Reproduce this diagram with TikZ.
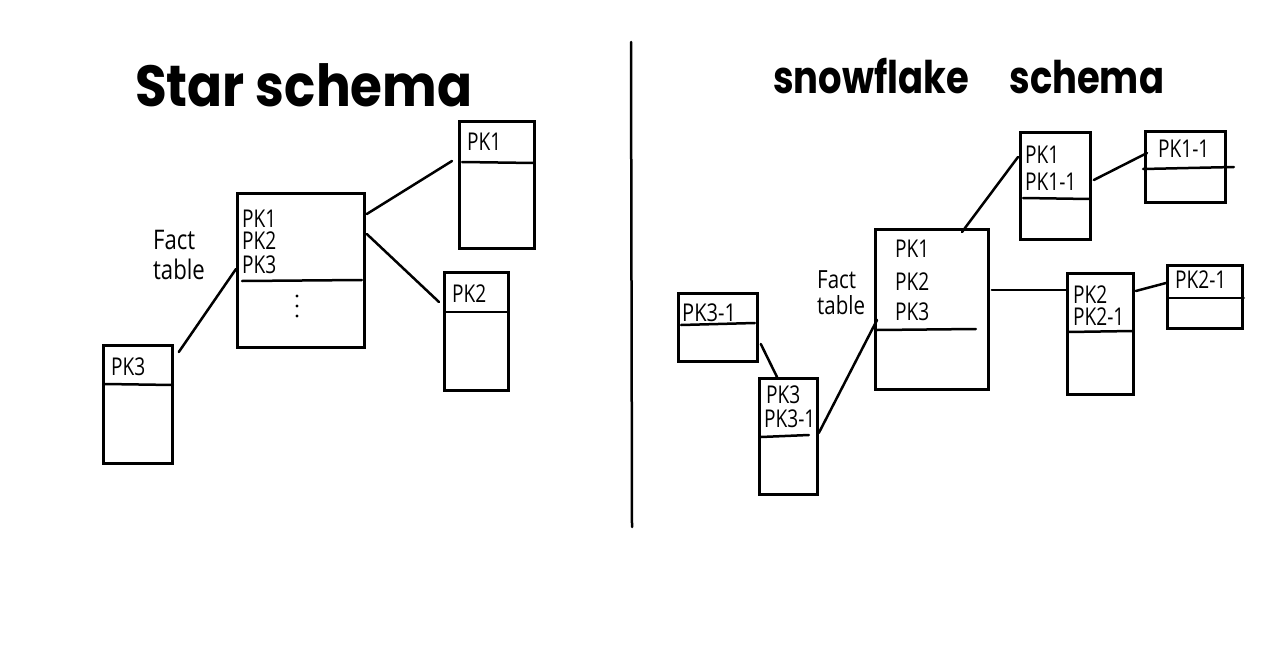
\documentclass[tikz,border=0pt]{standalone}
\usepackage{fontspec}
\setmainfont{Open Sans}
\newfontfamily\titlefont{Poppins}
\usetikzlibrary{calc}
\begin{document}
\begin{tikzpicture}[x=1pt,y=-1pt,
  tbl/.style={draw, line width=2.8pt, rectangle, inner sep=0pt, anchor=north west},
  lbl/.style={font=\fontsize{24.5}{26}\selectfont, anchor=base west, inner sep=0pt, xscale=0.78},
  side/.style={font=\fontsize{27}{30}\selectfont, anchor=north west, inner sep=0pt, align=left, xscale=0.82},
  ttl/.style={font=\titlefont\bfseries\fontsize{58}{60}\selectfont, anchor=base west, inner sep=0pt, xscale=0.89},
  ttlb/.style={font=\titlefont\bfseries\fontsize{45}{48}\selectfont, anchor=base west, inner sep=0pt, xscale=0.82},
  conn/.style={line width=2.5pt, line cap=round},
  uline/.style={line width=2.5pt, line cap=round},
  divider/.style={line width=2.5pt, line cap=round}]
\fill[white] (0,0) rectangle (1282,661);
\useasboundingbox (0,0) rectangle (1282,661);

% ---------- titles ----------
\node[ttl] (t1) at (135,106) {Star schema};
\node[ttlb] (t2) at (773,93) {snowflake\hspace{40pt} schema};

% ---------- divider ----------
\coordinate (dtop) at (631,42);
\coordinate (dbot) at (632,527);
\draw[divider] (dtop) -- (dbot);

% ================= STAR SCHEMA =================
\node[tbl, minimum width=127pt, minimum height=154pt] (sf) at (236,192) {};
\node[lbl] (sfa) at (242,227) {PK1};
\node[lbl] (sfb) at (242,249) {PK2};
\node[lbl] (sfc) at (242,273) {PK3};
\draw[uline] ($(sf.north west)+(6,89)$) -- ($(sf.north east)+(-4,88)$);
\fill (297,296) circle (1.6pt) (297,306) circle (1.6pt) (297,316) circle (1.6pt);
\node[side] (sfl) at (153,230) {Fact\\table};

\node[tbl, minimum width=75pt, minimum height=127pt] (sd1) at (458,120) {};
\node[lbl] (sd1a) at (467,150) {PK1};
\draw[uline] ($(sd1.north west)+(4,42)$) -- ($(sd1.north east)+(-2,43)$);

\node[tbl, minimum width=64pt, minimum height=118pt] (sd2) at (443,271) {};
\node[lbl] (sd2a) at (452,302) {PK2};
\draw[uline] ($(sd2.north west)+(2,41)$) -- ($(sd2.north east)+(-2,41)$);

\node[tbl, minimum width=69pt, minimum height=118pt] (sd3) at (102,344) {};
\node[lbl] (sd3a) at (111,375) {PK3};
\draw[uline] ($(sd3.north west)+(3,40)$) -- ($(sd3.north east)+(-1,41)$);

\draw[conn] ($(sf.north east)+(1,22)$) -- ($(sd1.north west)+(-6,41)$);
\draw[conn] ($(sf.north east)+(1,42)$) -- ($(sd2.north west)+(-4,31)$);
\draw[conn] ($(sd3.north east)+(5,8)$) -- ($(sf.north west)+(0,77)$);

% ================= SNOWFLAKE SCHEMA =================
\node[tbl, minimum width=113pt, minimum height=160pt] (ff) at (874,228) {};
\node[lbl] (ffa) at (895,257) {PK1};
\node[lbl] (ffb) at (895,290) {PK2};
\node[lbl] (ffc) at (895,320) {PK3};
\draw[uline] ($(ff.north west)+(3,102)$) -- ($(ff.north east)+(-14,101)$);
\node[side, font=\fontsize{25}{26}\selectfont] (ffl) at (817,270) {Fact\\table};

\node[tbl, minimum width=70pt, minimum height=107pt] (fd1) at (1019,131) {};
\node[lbl] (fd1a) at (1025,163) {PK1};
\node[lbl] (fd1b) at (1025,190) {PK1-1};
\draw[uline] ($(fd1.north west)+(4,67)$) -- ($(fd1.north east)+(-2,68)$);

\node[tbl, minimum width=80pt, minimum height=71pt] (fe1) at (1144,130) {};
\node[lbl] (fe1a) at (1158,157) {PK1-1};
\draw[uline] ($(fe1.north west)+(-1,39)$) -- ($(fe1.north east)+(7,37)$);

\node[tbl, minimum width=66pt, minimum height=121pt] (fd2) at (1066,272) {};
\node[lbl] (fd2a) at (1073,303) {PK2};
\node[lbl] (fd2b) at (1073,325) {PK2-1};
\draw[uline] ($(fd2.north west)+(2,60)$) -- ($(fd2.north east)+(-2,59)$);

\node[tbl, minimum width=75pt, minimum height=63pt] (fe2) at (1166,264) {};
\node[lbl] (fe2a) at (1175,288) {PK2-1};
\draw[uline] ($(fe2.north west)+(2,34)$) -- ($(fe2.north east)+(0,34)$);

\node[tbl, minimum width=79pt, minimum height=68pt] (fe3) at (677,292) {};
\node[lbl, xscale=1.05] (fe3a) at (682,321) {PK3-1};
\draw[uline] ($(fe3.north west)+(4,33)$) -- ($(fe3.north east)+(-4,31)$);

\node[tbl, minimum width=58pt, minimum height=116pt] (fd3) at (758,377) {};
\node[lbl] (fd3a) at (766,403) {PK3};
\node[lbl] (fd3b) at (764,427) {PK3-1};
\draw[uline] ($(fd3.north west)+(3,60)$) -- ($(fd3.north east)+(-10,58)$);

\draw[conn] ($(ff.north west)+(88,4)$) -- ($(fd1.north west)+(-1,26)$);
\draw[conn] ($(fd1.north east)+(2,49)$) -- ($(fe1.north west)+(3,23)$);
\draw[conn] ($(ff.north east)+(2,62)$) -- ($(fd2.north west)+(0,18)$);
\draw[conn] ($(fd2.north east)+(1,19)$) -- ($(fe2.north west)+(0,19)$);
\draw[conn] ($(fe3.north east)+(2,52)$) -- ($(fd3.north west)+(19,0)$);
\draw[conn] ($(fd3.north east)+(0,56)$) -- ($(ff.north west)+(3,92)$);
\end{tikzpicture}
\end{document}
